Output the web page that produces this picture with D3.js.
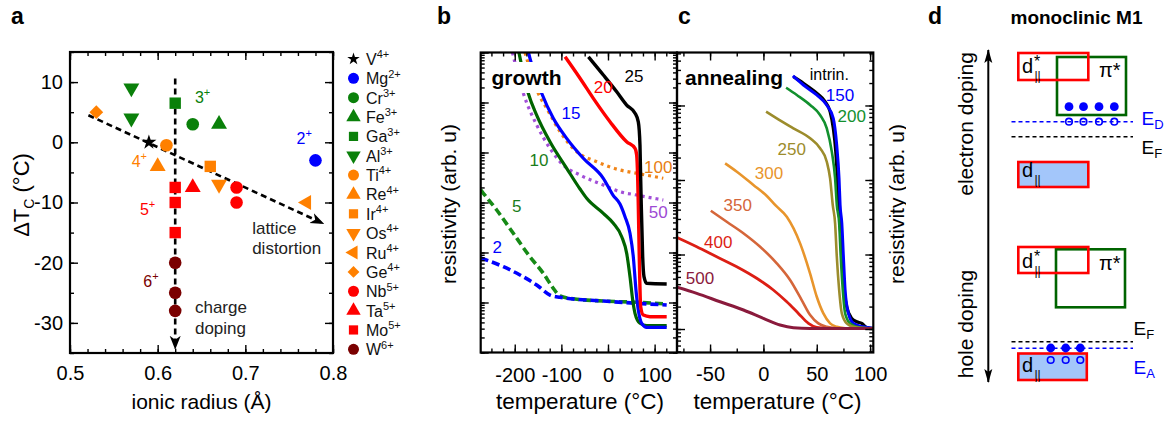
<!DOCTYPE html>
<html>
<head>
<meta charset="utf-8">
<script src="https://cdn.jsdelivr.net/npm/d3@7"></script>
<style>
  body { margin: 0; background: #fff; }
  svg { display: block; }
</style>
</head>
<body>
<svg id="fig" width="1169" height="421"></svg>
<script>
// ---------------- Panel a: dopant ions ----------------
const ionNames   = ["V","Mg","Cr","Fe","Ga","Al","Ti","Re","Ir","Os","Ru","Ge","Nb","Ta","Mo","W"];
const ionCharges = ["4+","2+","3+","3+","3+","3+","4+","4+","4+","4+","4+","4+","5+","5+","5+","6+"];
const ionRadius  = [[0.59],[0.78],[0.64],[0.67],[0.62],[0.57,0.57],[0.61],[0.60],[0.66],[0.67],[0.77],[0.53],[0.69,0.69],[0.64],[0.62,0.62,0.62],[0.62,0.62,0.62]];
const ionDeltaTc = [[0],[-3],[3],[3],[6.5],[9,4],[-0.5],[-4],[-4],[-7],[-10],[5],[-7.5,-10],[-7.5],[-7.5,-10,-15],[-20,-25,-28]];
const ionColor   = ["#000000","#0000ff","#0a800a","#0a800a","#0a800a","#0a800a","#ff8000","#ff8000","#ff8000","#ff8000","#ff8000","#ff8000","#ff0000","#ff0000","#ff0000","#7a0000"];
const ionShape   = ["star","circle","circle","triangle","square","down","circle","triangle","square","down","left","diamond","circle","triangle","square","circle"];
const radiusTicks = [0.5, 0.6, 0.7, 0.8];
const deltaTcTicks = [-30, -20, -10, 0, 10];
// trend guides: [start, end] in (radius, ΔTc)
const latticeTrend = [[0.521, 4.5], [0.789, -13.5]];
const chargeTrend  = [[0.62, 10.6], [0.62, -34.3]];
const valenceNotes = [["3+",0.6425,6.45,"#0a800a"],["2+",0.7585,-0.2,"#0000ff"],["4+",0.5704,-4.1,"#ff8000"],["5+",0.5798,-12.1,"#ff0000"],["6+",0.5836,-24.1,"#7a0000"]];

// ---------------- Panel b: growth series ----------------
const growthTempTicks = [-200, -100, 0, 100];
const growth5   = [[-273,1.78e3],[-267.4,1.53e3],[-238.7,708],[-203.1,242],[-167.3,82],[-138.8,38.4],[-117.3,19.2],[-102.9,13.5],[-81.5,12.1],[-10.1,10.7],[61.5,10.1],[125.9,9.33]];
const growth2   = [[-273,77.6],[-224.5,52],[-188.7,35.5],[-152.9,22.4],[-124.4,14.1],[-102.9,12.7],[-10.1,10.7],[125.9,8.9]];
const growth50  = [[-205,1e6],[-181.6,1.53e5],[-152.9,3.55e4],[-124.4,1.21e4],[-95.9,5.6e3],[-60,3.55e3],[-10.1,2.24e3],[25.7,1.64e3],[61.5,1.41e3],[118.6,1.12e3]];
const growth100 = [[-178,1e6],[-149.5,1.53e5],[-131.5,7.66e4],[-102.9,2.61e4],[-67.1,1.04e4],[-24.2,6.55e3],[25.7,4.47e3],[61.5,3.84e3],[118.6,3.05e3]];
const growth10  = [[-191,1e6],[-171,1.53e5],[-153,5.6e4],[-124.4,1.64e4],[-88.6,4.83e3],[-60,1.86e3],[-45.7,1.21e3],[-10.1,608],[11.4,384],[29.4,207],[40.1,96],[47.2,32.8],[53,11.2],[57.9,6.08],[68.6,3.84],[83,3.44],[125.9,3.44]];
const growth15  = [[-170.5,1e6],[-167.3,7.66e5],[-142.2,1.53e5],[-117.3,4.83e4],[-88.6,1.92e4],[-53,7.66e3],[-10.1,3.05e3],[10.7,1.41e3],[25.7,933],[36.5,520],[47.2,242],[54.3,82],[60,17.8],[65,7.1],[72.3,3.84],[83,3.19],[125.9,3.19]];
const growth20  = [[-92,8.2e5],[-60,3.05e5],[-31.5,1.21e5],[4.3,4.13e4],[40,1.64e4],[58,1.21e4],[61.5,8.9e3],[63.7,3.05e3],[65,890],[67.1,82],[70.1,8.2],[75.7,5.6],[90,5.2],[125.9,5.2]];
const growth25  = [[-42,8.2e5],[-10,3.55e5],[18.7,1.64e5],[40,8.9e4],[58,6.1e4],[65,4.1e4],[68.6,1.41e4],[70.1,3.05e3],[71.4,890],[74.4,82],[77.2,33],[83,24.2],[125.9,23.4]];
const growthSeries = [growth5, growth2, growth50, growth100, growth10, growth15, growth20, growth25];
const growthNames  = ["5","2","50","100","10","15","20","25"];
const growthNameAt = [[-195.8,851],[-237.4,131],[107.9,655],[107.9,5.2e3],[-148,7.08e3],[-79.3,6.08e4],[-10.1,2.01e5],[55.8,3.44e5]];

// ---------------- Panel c: annealing series ----------------
const annealTempTicks = [-50, 0, 50, 100];
const annealIntrin = [[28.1,2438],[37.5,1986],[50,1459],[57.8,1125],[62.5,826],[65.5,494],[67.8,240],[69.3,105],[70.2,46.1],[71.9,26.2],[73.5,9.33],[75,4.1],[78.1,1.99],[82.8,1.39],[87.5,1.25],[92.2,1.19],[96.8,1.05],[103,1.02]];
const anneal150 = [[27.6,2489],[37.5,1884],[50,1384],[59.3,1016],[65.5,673],[68.7,295],[70.9,105],[71.9,46.1],[73.5,26.2],[75,9.33],[76.6,3.34],[79.7,1.62],[84.4,1.19],[93.7,1.07],[103,1.02]];
const anneal200 = [[21.3,1734],[31.3,1384],[43.8,1016],[53.1,745],[59.4,494],[64.1,240],[67.2,105],[68.8,46.1],[71,26.2],[72.5,9.33],[74.4,3.34],[76.6,1.62],[81.2,1.19],[90.6,1.05],[103,1.02]];
const anneal250 = [[2.5,826],[12.5,673],[28.1,494],[43.8,363],[53.1,267],[59.4,176],[62.5,105],[65,46.1],[67.2,26.2],[68.8,9.33],[71,3.34],[73.5,1.62],[78.2,1.19],[87.5,1.05],[103,1.02]];
const anneal300 = [[-35.9,167],[-24.9,129],[-9.4,85.7],[3.2,61],[11.9,44.8],[21.9,32.1],[34.4,14.1],[43.7,5.6],[50,2.71],[56.2,1.62],[62.5,1.19],[68.8,1.07],[76.6,1.02]];
const anneal350 = [[-49.3,38.7],[-34.4,27.5],[-18.8,19.3],[-3.1,12.7],[12.5,7.62],[25,4.55],[35.9,2.45],[43.8,1.54],[51.5,1.19],[59.3,1.07],[68.7,1.02]];
const anneal400 = [[-81,16.9],[-62.5,12.7],[-43.8,9.33],[-25,6.86],[-6.3,4.8],[9.3,3.34],[21.9,2.32],[32.8,1.62],[42.2,1.19],[50,1.05],[59.4,1.02]];
const anneal500 = [[-81,3.64],[-62.5,3.01],[-40.6,2.32],[-18.7,1.8],[0,1.39],[15.6,1.13],[28.1,1.04],[43.7,1.02],[103,1.02]];
const annealSeries = [annealIntrin, anneal150, anneal200, anneal250, anneal300, anneal350, anneal400, anneal500];
const annealNames  = ["intrin.","150","200","250","300","350","400","500"];
const annealNameAt = [[61.8,2650],[71.8,1384],[82.8,730],[26.5,261],[5.2,125],[-24.1,46],[-42.3,14.9],[-59.4,4.8]];

// ---------------- styles ----------------
const FONT = '"Liberation Sans", Arial, Helvetica, sans-serif';
const growthStyle = [
  {c:"#168a16", dash:"8,4", w:3.6, lc:"#1a7d1a"},
  {c:"#0000ff", dash:"8,4", w:3.6, lc:"#0000ff"},
  {c:"#a24fd8", dash:"3,4", w:3.2, lc:"#9d4ad4"},
  {c:"#f08418", dash:"3,4", w:3.2, lc:"#e87e12"},
  {c:"#006400", dash:null,  w:3.2, lc:"#1a7d1a"},
  {c:"#0000ff", dash:null,  w:3.2, lc:"#0000ff"},
  {c:"#ff0000", dash:null,  w:3.4, lc:"#ff0000"},
  {c:"#000000", dash:null,  w:3.4, lc:"#000000"}
];
const annealStyle = [
  {c:"#000000", w:3.2}, {c:"#0000ff", w:3.0}, {c:"#12902e", w:2.6}, {c:"#9c8c2c", w:2.6},
  {c:"#e8952c", w:2.6}, {c:"#d5663a", w:2.6}, {c:"#dc1e14", w:2.8}, {c:"#8a1a3c", w:3.0}
];
// plain hyphen for negative tick labels
const plainInt = d => String(d);
const plainOne = d => d.toFixed(1);

const svg = d3.select("#fig").attr("font-family", FONT);
svg.append("rect").attr("width", 1169).attr("height", 421).attr("fill", "#fff");
const defs = svg.append("defs");

// inward ticks on all four sides of a frame
function frameAxes(g, x, y, xMaj, xMin, yMaj, yMin, o) {
  const [xl, xr] = x.range(), [yb, yt] = y.range();
  const strip = s => s.select(".domain").remove();
  const style = s => s.attr("font-size", o.fs).attr("font-family", FONT)
                      .selectAll("line").attr("stroke-width", 1.4);
  const add = (axis, tx, ty) => g.append("g").attr("transform", `translate(${tx},${ty})`).call(axis).call(strip).call(style);
  add(d3.axisBottom(x).tickValues(xMin).tickSize(-4).tickFormat(""), 0, yb);
  add(d3.axisBottom(x).tickValues(xMaj).tickSize(-8).tickPadding(o.xpad).tickFormat(o.xfmt), 0, yb);
  add(d3.axisTop(x).tickValues(xMin).tickSize(-4).tickFormat(""), 0, yt);
  add(d3.axisTop(x).tickValues(xMaj).tickSize(-8).tickFormat(""), 0, yt);
  add(d3.axisLeft(y).tickValues(yMin).tickSize(-4).tickFormat(""), xl, 0);
  add(d3.axisLeft(y).tickValues(yMaj).tickSize(-8).tickPadding(o.ypad || 6).tickFormat(o.yfmt || ""), xl, 0);
  add(d3.axisRight(y).tickValues(yMin).tickSize(-4).tickFormat(""), xr, 0);
  add(d3.axisRight(y).tickValues(yMaj).tickSize(-8).tickFormat(""), xr, 0);
  g.append("rect").attr("x", xl).attr("y", yt).attr("width", xr - xl).attr("height", yb - yt)
    .attr("fill", "none").attr("stroke", "#000").attr("stroke-width", 2.2);
}

function symbolPath(shape, size) {
  const t = {star:d3.symbolStar, circle:d3.symbolCircle, triangle:d3.symbolTriangle, down:d3.symbolTriangle,
             left:d3.symbolTriangle, square:d3.symbolSquare, diamond:d3.symbolSquare}[shape];
  return d3.symbol().type(t).size(size)();
}
const symbolRot = {down:180, left:-90, diamond:45};
const symbolSize = {star:70, circle:125, triangle:110, down:110, left:100, square:130, diamond:95};

// ================= Panel a =================
const xA = d3.scaleLinear().domain([0.5, 0.8]).range([70, 333]);
const yA = d3.scaleLinear().domain([-35, 15]).range([353, 52]);
const gA = svg.append("g");
frameAxes(gA, xA, yA, radiusTicks, d3.range(25, 41).map(i => +(i * 0.02).toFixed(2)),
  deltaTcTicks, d3.range(-35, 16, 5),
  {fs: 20, xpad: 13, ypad: 7, xfmt: plainOne, yfmt: plainInt});

defs.append("marker").attr("id", "arrowA").attr("viewBox", "0 -6 14 12").attr("refX", 13).attr("refY", 0)
  .attr("markerWidth", 14).attr("markerHeight", 12).attr("markerUnits", "userSpaceOnUse").attr("orient", "auto")
  .append("path").attr("d", "M0,-5.5L14,0L0,5.5L4,0Z").attr("fill", "#000");

[latticeTrend, chargeTrend].forEach(t => {
  gA.append("line").attr("x1", xA(t[0][0])).attr("y1", yA(t[0][1])).attr("x2", xA(t[1][0])).attr("y2", yA(t[1][1]))
    .attr("stroke", "#000").attr("stroke-width", 2.6).attr("stroke-dasharray", "6,4")
    .attr("marker-end", "url(#arrowA)");
});

ionNames.forEach((n, i) => {
  ionRadius[i].forEach((r, j) => {
    gA.append("path").attr("d", symbolPath(ionShape[i], symbolSize[ionShape[i]]))
      .attr("transform", `translate(${xA(r)},${yA(ionDeltaTc[i][j])}) rotate(${symbolRot[ionShape[i]] || 0})`)
      .attr("fill", ionColor[i]);
  });
});

function supText(g, x, y, base, sup, fs, sfs, color) {
  const t = g.append("text").attr("x", x).attr("y", y).attr("font-size", fs).attr("fill", color);
  t.append("tspan").text(base);
  t.append("tspan").attr("font-size", sfs).attr("dy", -fs * 0.42).text(sup);
  return t;
}
valenceNotes.forEach(v => {
  const t = gA.append("text").attr("x", xA(v[1])).attr("y", yA(v[2])).attr("font-size", 16).attr("fill", v[3]);
  t.append("tspan").text(v[0][0]);
  t.append("tspan").attr("font-size", 11).attr("dy", -7).text("+");
});
[["lattice", 0.7078, -15.3], ["distortion", 0.7078, -18.6], ["charge", 0.6425, -28.4], ["doping", 0.6425, -31.8]]
  .forEach(s => gA.append("text").attr("x", xA(s[1])).attr("y", yA(s[2])).attr("font-size", 17).attr("fill", "#222").text(s[0]));

// legend
const legY = d3.scaleLinear().domain([0, ionNames.length - 1]).range([59, 349.3]);
const legSize = {star:48, circle:95, triangle:90, down:90, left:85, square:85, diamond:70};
ionNames.forEach((n, i) => {
  gA.append("path").attr("d", symbolPath(ionShape[i], legSize[ionShape[i]]))
    .attr("transform", `translate(353.5,${legY(i)}) rotate(${symbolRot[ionShape[i]] || 0})`).attr("fill", ionColor[i]);
  supText(gA, 366, legY(i) + 6, n, ionCharges[i], 16, 11, "#111");
});

gA.append("text").attr("x", 201.5).attr("y", 408.5).attr("text-anchor", "middle").attr("font-size", 21).text("ionic radius (Å)");
{
  const t = gA.append("text").attr("transform", "translate(29,195) rotate(-90)").attr("text-anchor", "middle").attr("font-size", 22);
  t.append("tspan").text("ΔT");
  t.append("tspan").attr("font-size", 14).attr("dy", 5).text("C");
  t.append("tspan").attr("dy", -5).text(" (°C)");
}

// ================= Panel b =================
const xB = d3.scaleLinear().domain([-273, 148]).range([480.7, 677]);
const yB = d3.scaleLog().domain([1, 1e6]).range([352.5, 52.5]);
const decadesB = d3.range(0, 7).map(k => Math.pow(10, k));
const gB = svg.append("g");
defs.append("clipPath").attr("id", "clipB").append("rect").attr("x", 480.7).attr("y", 52.5).attr("width", 196.3).attr("height", 300);
const lineB = d3.line().x(d => xB(d[0])).y(d => yB(d[1])).curve(d3.curveMonotoneX);
const curvesB = gB.append("g").attr("clip-path", "url(#clipB)");
growthSeries.forEach((s, i) => {
  const st = growthStyle[i];
  curvesB.append("path").attr("d", lineB(s)).attr("fill", "none").attr("stroke", st.c).attr("stroke-width", st.w)
    .attr("stroke-dasharray", st.dash).attr("stroke-linejoin", "round");
});
gB.append("rect").attr("x", 486).attr("y", 62).attr("width", 79).attr("height", 31).attr("fill", "#fff");
gB.append("text").attr("x", 491.5).attr("y", 84.5).attr("font-size", 21).attr("font-weight", "bold").text("growth");
growthNames.forEach((n, i) => {
  gB.append("text").attr("x", xB(growthNameAt[i][0])).attr("y", yB(growthNameAt[i][1])).attr("dy", "0.35em")
    .attr("text-anchor", "middle").attr("font-size", 17).attr("fill", growthStyle[i].lc).text(n);
});
frameAxes(gB, xB, yB, growthTempTicks, d3.range(-250, 126, 25), decadesB, yB.ticks(),
  {fs: 20, xpad: 15, xfmt: plainInt});
gB.append("text").attr("x", 580).attr("y", 408.5).attr("text-anchor", "middle").attr("font-size", 22.5).text("temperature (°C)");
gB.append("text").attr("transform", "translate(456,204) rotate(-90)").attr("text-anchor", "middle").attr("font-size", 21).text("resistivity (arb. u)");

// ================= Panel c =================
const xC = d3.scaleLinear().domain([-81, 103]).range([677, 873.3]);
const yC = d3.scaleLog().domain([0.484, 5140]).range([352.5, 52.5]);
const decadesC = d3.range(0, 4).map(k => Math.pow(10, k));
const gC = svg.append("g");
defs.append("clipPath").attr("id", "clipC").append("rect").attr("x", 677).attr("y", 52.5).attr("width", 196.3).attr("height", 300);
const lineC = d3.line().x(d => xC(d[0])).y(d => yC(d[1])).curve(d3.curveMonotoneX);
const curvesC = gC.append("g").attr("clip-path", "url(#clipC)");
annealSeries.forEach((s, i) => {
  curvesC.append("path").attr("d", lineC(s)).attr("fill", "none").attr("stroke", annealStyle[i].c)
    .attr("stroke-width", annealStyle[i].w).attr("stroke-linejoin", "round");
});
gC.append("text").attr("x", 685).attr("y", 84.5).attr("font-size", 21).attr("font-weight", "bold").text("annealing");
annealNames.forEach((n, i) => {
  gC.append("text").attr("x", xC(annealNameAt[i][0])).attr("y", yC(annealNameAt[i][1])).attr("dy", "0.35em")
    .attr("text-anchor", "middle").attr("font-size", i === 0 ? 16 : 17).attr("fill", annealStyle[i].c).text(n);
});
frameAxes(gC, xC, yC, annealTempTicks, d3.range(-75, 101, 25), decadesC, yC.ticks(),
  {fs: 20, xpad: 14, xfmt: plainInt});
gC.append("text").attr("x", 777.5).attr("y", 408.5).attr("text-anchor", "middle").attr("font-size", 22.5).text("temperature (°C)");
gC.append("text").attr("transform", "translate(904,204) rotate(-90)").attr("text-anchor", "middle").attr("font-size", 21).text("resistivity (arb. u)");

// ================= Panel d: band schematic =================
const gD = svg.append("g");
gD.append("rect").attr("x", 906).attr("y", 0).attr("width", 263).attr("height", 421).attr("fill", "#fff");
gD.append("text").attr("x", 1076.5).attr("y", 23.5).attr("text-anchor", "middle").attr("font-size", 19).attr("font-weight", "bold").text("monoclinic M1");

defs.append("marker").attr("id", "arrowD").attr("viewBox", "0 -5 14 10").attr("refX", 13).attr("refY", 0)
  .attr("markerWidth", 14).attr("markerHeight", 10).attr("markerUnits", "userSpaceOnUse").attr("orient", "auto-start-reverse")
  .append("path").attr("d", "M0,-4L14,0L0,4L3,0Z").attr("fill", "#000");
gD.append("line").attr("x1", 988.3).attr("x2", 988.3).attr("y1", 50).attr("y2", 382)
  .attr("stroke", "#000").attr("stroke-width", 2).attr("marker-start", "url(#arrowD)").attr("marker-end", "url(#arrowD)");
gD.append("text").attr("transform", "translate(973,124) rotate(-90)").attr("text-anchor", "middle").attr("font-size", 21).text("electron doping");
gD.append("text").attr("transform", "translate(973,324) rotate(-90)").attr("text-anchor", "middle").attr("font-size", 21).text("hole doping");

const RED = "#ff0000", GREEN = "#006400", BLUE = "#0000ff", FILL = "#a3c6fa";
function band(x, y, w, h, stroke, fill) {
  gD.append("rect").attr("x", x).attr("y", y).attr("width", w).attr("height", h)
    .attr("fill", fill || "none").attr("stroke", stroke).attr("stroke-width", 2.6);
}
function level(y, color) {
  gD.append("line").attr("x1", 1011.5).attr("x2", 1133).attr("y1", y).attr("y2", y)
    .attr("stroke", color).attr("stroke-width", 1.6).attr("stroke-dasharray", "4,3");
}
// d with optional * superscript and || subscript
function dLabel(x, y, star) {
  const t = gD.append("text").attr("x", x).attr("y", y).attr("font-size", 20);
  t.append("tspan").text("d");
  if (star) t.append("tspan").attr("x", x + 12).attr("dy", -6).attr("font-size", 16).text("*");
  t.append("tspan").attr("x", x + 12.5).attr("dy", star ? 13 : 6.5).attr("font-size", 12).text("||");
}
function eLabel(x, y, sub, color) {
  const t = gD.append("text").attr("x", x).attr("y", y).attr("font-size", 19).attr("fill", color);
  t.append("tspan").text("E");
  t.append("tspan").attr("font-size", 13).attr("dy", 4).text(sub);
}

// electron doping
band(1057, 57, 69, 58, GREEN);
band(1018.3, 53, 70, 27, RED);
dLabel(1022, 73, true);
gD.append("text").attr("x", 1099).attr("y", 76.5).attr("font-size", 20).text("π*");
level(136.7, "#000");
level(121.7, BLUE);
[1069, 1083.5, 1099, 1114.3].forEach(x => {
  gD.append("circle").attr("cx", x).attr("cy", 106.7).attr("r", 4.4).attr("fill", BLUE);
  gD.append("circle").attr("cx", x).attr("cy", 121.7).attr("r", 3.3).attr("fill", "none").attr("stroke", BLUE).attr("stroke-width", 1.6);
});
band(1018.3, 162, 70, 25, RED, FILL);
dLabel(1022, 177, false);
eLabel(1141.5, 124.5, "D", BLUE);
eLabel(1141.5, 153.5, "F", "#000");

// hole doping
band(1056, 249.3, 69, 58, GREEN);
band(1018.3, 247, 70, 26, RED);
dLabel(1022, 267.5, true);
gD.append("text").attr("x", 1099).attr("y", 270).attr("font-size", 20).text("π*");
band(1018.3, 353.5, 68.5, 26.5, RED, FILL);
dLabel(1022, 372, false);
level(341.7, "#000");
level(348.3, BLUE);
[1050.7, 1065.7, 1080.3].forEach(x => {
  gD.append("circle").attr("cx", x).attr("cy", 348).attr("r", 4.4).attr("fill", BLUE);
  gD.append("circle").attr("cx", x).attr("cy", 360).attr("r", 3.3).attr("fill", "none").attr("stroke", BLUE).attr("stroke-width", 1.6);
});
eLabel(1133.5, 335, "F", "#000");
eLabel(1133.5, 373.5, "A", BLUE);

// panel letters
[["a", 11], ["b", 437], ["c", 678], ["d", 928]].forEach(p =>
  svg.append("text").attr("x", p[1]).attr("y", 24).attr("font-size", 23).attr("font-weight", "bold").text(p[0]));
</script>
</body>
</html>
